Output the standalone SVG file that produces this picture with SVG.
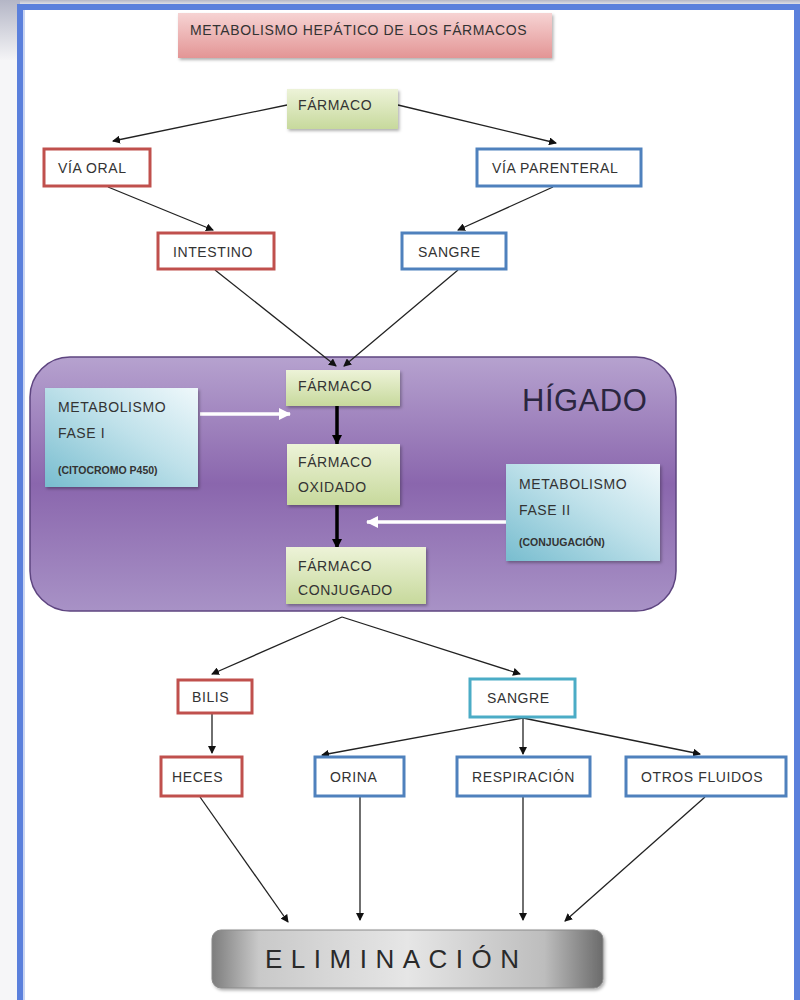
<svg xmlns="http://www.w3.org/2000/svg" width="800" height="1000" viewBox="0 0 800 1000">
<defs>
<linearGradient id="gTitle" x1="0" y1="0" x2="0" y2="1"><stop offset="0" stop-color="#f6d3d3"/><stop offset="1" stop-color="#e39595"/></linearGradient>
<linearGradient id="gGreen" x1="0" y1="0" x2="0" y2="1"><stop offset="0" stop-color="#edf3d8"/><stop offset="1" stop-color="#c7d99c"/></linearGradient>
<linearGradient id="gPurple" x1="0" y1="0" x2="0" y2="1"><stop offset="0" stop-color="#b6a2cf"/><stop offset="0.5" stop-color="#8a66ad"/><stop offset="1" stop-color="#a892c6"/></linearGradient>
<linearGradient id="gBlue" x1="0" y1="1" x2="1" y2="0"><stop offset="0" stop-color="#78bdcf"/><stop offset="0.55" stop-color="#bfe1ea"/><stop offset="1" stop-color="#eff8fb"/></linearGradient>
<linearGradient id="gGray" x1="0" y1="0" x2="1" y2="0"><stop offset="0" stop-color="#7d7d7d"/><stop offset="0.12" stop-color="#c9c9c9"/><stop offset="0.5" stop-color="#e6e6e6"/><stop offset="0.85" stop-color="#bdbdbd"/><stop offset="1" stop-color="#6b6b6b"/></linearGradient>
<linearGradient id="gCorner" x1="0" y1="0" x2="0" y2="1"><stop offset="0" stop-color="#b4b6c6"/><stop offset="1" stop-color="#f4f4f6"/></linearGradient>
<marker id="ah" markerWidth="8" markerHeight="8" refX="7" refY="4" orient="auto" markerUnits="userSpaceOnUse"><path d="M0,0 L8,4 L0,8 Z" fill="#111"/></marker>
<marker id="ahB" markerWidth="10" markerHeight="10" refX="9" refY="5" orient="auto" markerUnits="userSpaceOnUse"><path d="M0,0 L10,5 L0,10 Z" fill="#000"/></marker>
<marker id="ahW" markerWidth="12" markerHeight="12" refX="11" refY="6" orient="auto" markerUnits="userSpaceOnUse"><path d="M0,0 L12,6 L0,12 Z" fill="#ffffff"/></marker>
<filter id="sh" x="-10%" y="-10%" width="125%" height="130%"><feDropShadow dx="1.5" dy="2" stdDeviation="1.5" flood-color="#000" flood-opacity="0.3"/></filter>
</defs>
<style>
text{font-family:"Liberation Sans",Arial,sans-serif;fill:#333;font-size:14px;letter-spacing:0.6px}
.red{fill:#fff;stroke:#c0504d;stroke-width:3}
.blue{fill:#fff;stroke:#4f81bd;stroke-width:3}
.cyan{fill:#fff;stroke:#4bacc6;stroke-width:3}
.green{fill:url(#gGreen);filter:url(#sh)}
.pb{fill:url(#gBlue);filter:url(#sh)}
.c{stroke:#222;stroke-width:1.3;fill:none;marker-end:url(#ah)}
.cb{stroke:#000;stroke-width:3.5;fill:none;marker-end:url(#ahB)}
.cw{stroke:#fff;stroke-width:3.5;fill:none;marker-end:url(#ahW)}
.sm{font-size:10.5px;font-weight:bold;letter-spacing:0px}
</style>
<rect x="0" y="0" width="800" height="1000" fill="#ffffff"/>
<rect x="0" y="0" width="20" height="1000" fill="#f6f6f8"/>
<rect x="0" y="0" width="800" height="6" fill="url(#gCorner)"/>
<rect x="0" y="0" width="20" height="60" fill="url(#gCorner)"/>
<rect x="20" y="7" width="777" height="1000" fill="#ffffff" stroke="#5b80dc" stroke-width="6"/>
<rect x="23" y="10" width="2" height="990" fill="#c8d4f2"/>

<g id="title"><rect x="178" y="13" width="374" height="45" fill="url(#gTitle)" filter="url(#sh)"/><text x="190" y="35">METABOLISMO HEPÁTICO DE LOS FÁRMACOS</text></g>

<g id="higado"><rect x="30" y="357" width="646" height="254" rx="40" fill="url(#gPurple)" stroke="#5e4580" stroke-width="1.5"/><text x="522" y="411" style="font-size:31px;letter-spacing:0.5px;fill:#2b2640">HÍGADO</text></g>

<g id="connectors">
<line class="c" x1="287" y1="105" x2="113" y2="141"/>
<line class="c" x1="398" y1="105" x2="556" y2="143"/>
<line class="c" x1="108" y1="187" x2="213" y2="230"/>
<line class="c" x1="553" y1="187" x2="458" y2="230"/>
<line class="c" x1="215" y1="270" x2="336" y2="366"/>
<line class="c" x1="458" y1="270" x2="344" y2="366"/>
<line class="cb" x1="337" y1="406" x2="337" y2="444"/>
<line class="cb" x1="337" y1="505" x2="337" y2="548"/>
<line class="cw" x1="200" y1="414" x2="290" y2="414"/>
<line class="cw" x1="506" y1="522" x2="367" y2="522"/>
<line class="c" x1="342" y1="617" x2="212" y2="674"/>
<line class="c" x1="342" y1="617" x2="520" y2="674"/>
<line class="c" x1="212" y1="714" x2="212" y2="753"/>
<line class="c" x1="523" y1="718" x2="322" y2="755"/>
<line class="c" x1="523" y1="718" x2="523" y2="754"/>
<line class="c" x1="523" y1="718" x2="700" y2="754"/>
<line class="c" x1="200" y1="797" x2="288" y2="922"/>
<line class="c" x1="360" y1="797" x2="360" y2="920"/>
<line class="c" x1="523" y1="797" x2="523" y2="920"/>
<line class="c" x1="705" y1="797" x2="565" y2="921"/>
</g>

<g id="farmaco-top"><rect class="green" x="287" y="89" width="111" height="40"/><text x="298" y="110">FÁRMACO</text></g>
<g id="via-oral"><rect class="red" x="44" y="149" width="106" height="37"/><text x="58" y="173">VÍA ORAL</text></g>
<g id="via-parenteral"><rect class="blue" x="477" y="149" width="164" height="37"/><text x="492" y="173">VÍA PARENTERAL</text></g>
<g id="intestino"><rect class="red" x="158" y="233" width="116" height="36"/><text x="173" y="257">INTESTINO</text></g>
<g id="sangre-top"><rect class="blue" x="402" y="233" width="104" height="36"/><text x="418" y="257">SANGRE</text></g>

<g id="farmaco-in"><rect class="green" x="286" y="370" width="114" height="36"/><text x="298" y="391">FÁRMACO</text></g>
<g id="fase1"><rect class="pb" x="45" y="388" width="153" height="99"/><text x="58" y="412">METABOLISMO</text><text x="58" y="438">FASE I</text><text class="sm" x="58" y="474">(CITOCROMO P450)</text></g>
<g id="oxidado"><rect class="green" x="287" y="444" width="113" height="61"/><text x="298" y="467">FÁRMACO</text><text x="298" y="492">OXIDADO</text></g>
<g id="fase2"><rect class="pb" x="506" y="464" width="154" height="97"/><text x="519" y="489">METABOLISMO</text><text x="519" y="515">FASE II</text><text class="sm" x="519" y="546">(CONJUGACIÓN)</text></g>
<g id="conjugado"><rect class="green" x="286" y="547" width="140" height="57"/><text x="298" y="571">FÁRMACO</text><text x="298" y="595">CONJUGADO</text></g>

<g id="bilis"><rect class="red" x="178" y="680" width="74" height="33"/><text x="192" y="702">BILIS</text></g>
<g id="sangre-bottom"><rect class="cyan" x="470" y="679" width="105" height="38"/><text x="487" y="703">SANGRE</text></g>
<g id="heces"><rect class="red" x="161" y="757" width="81" height="39"/><text x="172" y="782">HECES</text></g>
<g id="orina"><rect class="blue" x="315" y="757" width="89" height="39"/><text x="330" y="782">ORINA</text></g>
<g id="respiracion"><rect class="blue" x="457" y="757" width="133" height="39"/><text x="472" y="782">RESPIRACIÓN</text></g>
<g id="otros"><rect class="blue" x="626" y="757" width="160" height="39"/><text x="641" y="782">OTROS FLUIDOS</text></g>

<g id="eliminacion"><rect x="212" y="930" width="391" height="58" rx="9" fill="url(#gGray)" stroke="#8a8a8a" stroke-width="1" filter="url(#sh)"/><text x="265" y="968" style="font-size:26px;letter-spacing:8.5px;fill:#2a2a2a">ELIMINACIÓN</text></g>
</svg>
